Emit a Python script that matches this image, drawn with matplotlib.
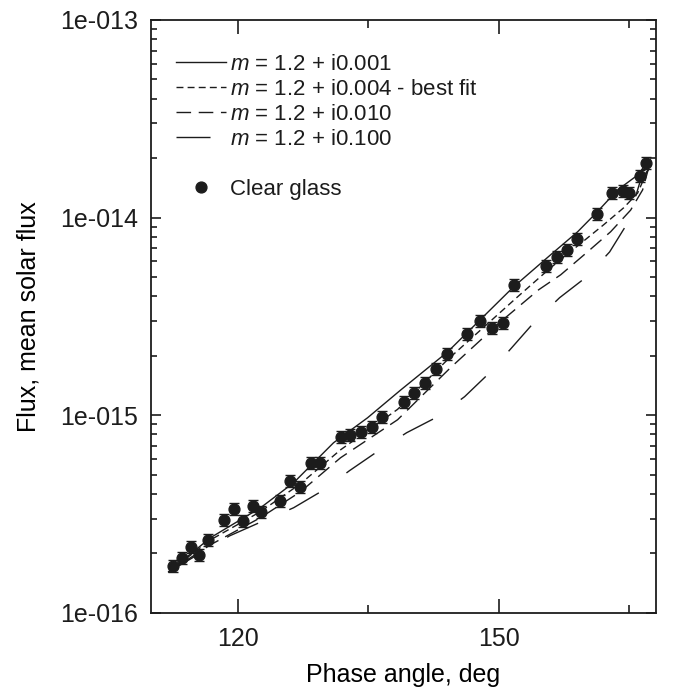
import numpy as np
import matplotlib
matplotlib.use("Agg")
import matplotlib.pyplot as plt
from matplotlib.ticker import FixedLocator, FuncFormatter, NullFormatter

plt.rcParams['font.family'] = ['Liberation Sans', 'DejaVu Sans']
plt.rcParams['mathtext.fontset'] = 'custom'
plt.rcParams['mathtext.rm'] = 'Liberation Sans'
plt.rcParams['mathtext.it'] = 'Liberation Sans:italic'
plt.rcParams['text.color'] = '#1c1c1c'
plt.rcParams['xtick.labelcolor'] = '#1c1c1c'
plt.rcParams['ytick.labelcolor'] = '#1c1c1c'

# measured points, clear glass
angle = [112.64, 113.56, 114.60, 115.52, 116.55, 118.39, 119.54, 120.57, 121.72, 122.64,
         124.83, 125.98, 127.13, 128.39, 129.43, 131.84, 132.87, 134.14, 135.40, 136.55,
         139.08, 140.23, 141.49, 142.76, 144.02, 146.32, 147.82, 149.20, 150.46, 151.72,
         155.40, 156.67, 157.82, 158.97, 161.26, 162.99, 164.25, 164.94, 166.21, 166.90]
flux = [1.73e-16, 1.90e-16, 2.16e-16, 1.97e-16, 2.34e-16, 2.96e-16, 3.36e-16, 2.92e-16, 3.48e-16, 3.25e-16,
        3.69e-16, 4.66e-16, 4.35e-16, 5.74e-16, 5.74e-16, 7.78e-16, 7.96e-16, 8.24e-16, 8.74e-16, 9.82e-16,
        1.17e-15, 1.30e-15, 1.46e-15, 1.72e-15, 2.05e-15, 2.58e-15, 3.00e-15, 2.77e-15, 2.93e-15, 4.57e-15,
        5.70e-15, 6.33e-15, 6.87e-15, 7.80e-15, 1.04e-14, 1.33e-14, 1.36e-14, 1.33e-14, 1.63e-14, 1.89e-14]
rel_err = 0.07

# model curves
x_001 = [112.07, 116.90, 122.64, 126.44, 131.03, 134.94, 138.74, 144.14, 151.72, 155.98,
         159.08, 161.26, 163.68, 165.98, 167.13]
y_001 = [1.61e-16, 2.40e-16, 3.40e-16, 4.55e-16, 7.25e-16, 9.70e-16, 1.34e-15, 2.09e-15, 4.46e-15, 6.48e-15,
         8.47e-15, 1.06e-14, 1.38e-14, 1.64e-14, 1.91e-14]

x_004 = [112.07, 116.90, 122.64, 127.24, 131.84, 138.39, 144.14, 152.18, 155.98, 162.07,
         164.37, 165.98, 167.13]
y_004 = [1.61e-16, 2.34e-16, 3.25e-16, 4.50e-16, 6.68e-16, 1.07e-15, 1.91e-15, 3.97e-15, 5.57e-15, 9.19e-15,
         1.12e-14, 1.33e-14, 1.74e-14]

x_010 = [112.07, 116.90, 122.64, 127.24, 131.84, 138.39, 144.48, 150.23, 154.60, 157.13,
         160.23, 162.87, 165.17, 166.55, 167.24]
y_010 = [1.61e-16, 2.21e-16, 3.03e-16, 4.10e-16, 6.09e-16, 9.48e-16, 1.74e-15, 2.97e-15, 4.31e-15, 5.13e-15,
         6.71e-15, 8.47e-15, 1.09e-14, 1.38e-14, 1.78e-14]

x_100 = [112.07, 119.08, 122.76, 126.44, 129.77, 132.87, 136.21, 139.43, 142.99, 146.09,
         148.97, 151.61, 154.14, 157.01, 160.11, 162.76, 164.83, 166.32, 167.24]
y_100 = [1.61e-16, 2.45e-16, 2.89e-16, 3.40e-16, 4.15e-16, 5.24e-16, 6.61e-16, 8.15e-16, 9.82e-16, 1.24e-15,
         1.64e-15, 2.22e-15, 2.97e-15, 3.93e-15, 5.01e-15, 6.70e-15, 9.40e-15, 1.55e-14, 1.75e-14]

labels = [r"$m$ = 1.2 + i0.001", r"$m$ = 1.2 + i0.004 - best fit",
          r"$m$ = 1.2 + i0.010", r"$m$ = 1.2 + i0.100", "Clear glass"]

y_major = [1e-16, 1e-15, 1e-14, 1e-13]

fig = plt.figure(figsize=(6.75, 6.87), dpi=100)
ax = fig.add_axes([0.223, 0.108, 0.749, 0.863])

col = '#1c1c1c'
ax.plot(x_001, y_001, color=col, lw=1.0, label=labels[0])
ax.plot(x_004, y_004, color=col, lw=1.0, dashes=(5, 3), label=labels[1])
ax.plot(x_010, y_010, color=col, lw=1.0, dashes=(10.5, 5.5), label=labels[2])
ax.plot(x_100, y_100, color=col, lw=1.0, dashes=(24.5, 24.5), label=labels[3])
ax.plot([], [], color='none', label=' ')

flux = np.array(flux)
ax.errorbar(angle, flux, yerr=flux * rel_err, fmt='none', ecolor=col, elinewidth=1.0,
            capsize=3.5, capthick=1.0, zorder=3)
ax.plot(angle, flux, 'o', color=col, ms=7.8, mec=col, ls='none', zorder=4, label=labels[4])

ax.set_yscale('log')
ax.set_xlim(110, 168.1)
ax.set_ylim(1e-16, 1e-13)

ax.xaxis.set_major_locator(FixedLocator([120, 150]))
ax.xaxis.set_minor_locator(FixedLocator([135, 165]))
minors = [m * d for d in y_major[:-1] for m in range(2, 10)]
ax.yaxis.set_major_locator(FixedLocator(y_major))
ax.yaxis.set_minor_locator(FixedLocator(minors))
ax.yaxis.set_major_formatter(FuncFormatter(lambda v, p: "1e-%03d" % round(-np.log10(v))))
ax.yaxis.set_minor_formatter(NullFormatter())

ax.tick_params(axis='both', which='both', direction='in', top=True, right=True,
               labelsize=18, width=1.2, color=col)
ax.tick_params(axis='x', which='major', length=10, pad=10)
ax.tick_params(axis='x', which='minor', length=6)
ax.tick_params(axis='y', which='major', length=7, pad=9)
ax.tick_params(axis='y', which='minor', length=4.5)
for s in ax.spines.values():
    s.set_linewidth(1.3)
    s.set_color(col)

ax.set_xlabel("Phase angle, deg", fontsize=18, labelpad=9)
ax.set_ylabel("Flux, mean solar flux", fontsize=18, labelpad=14)

ax.legend(loc='upper left', bbox_to_anchor=(0.05, 0.943), frameon=False,
          fontsize=16, handlelength=2.25, handletextpad=0.2, labelspacing=0.18,
          borderaxespad=0, borderpad=0)

fig.savefig("out.png", dpi=100)
